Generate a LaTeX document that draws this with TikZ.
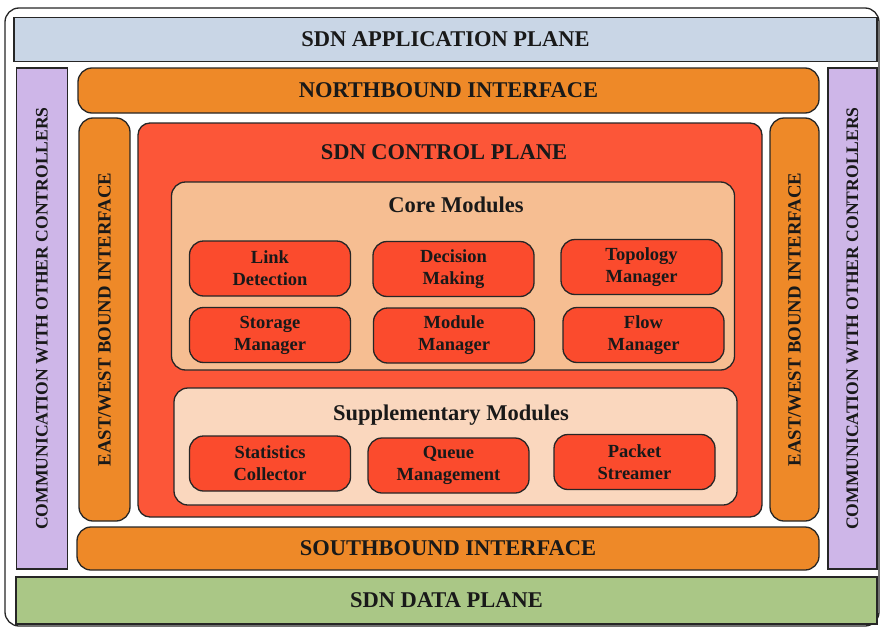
\documentclass[tikz,border=0pt]{standalone}
\usepackage{fontspec}
\setmainfont{Liberation Serif}
\usetikzlibrary{positioning}
\definecolor{appcol}{RGB}{201,214,230}
\definecolor{datacol}{RGB}{170,199,134}
\definecolor{commcol}{RGB}{206,182,232}
\definecolor{ifcol}{RGB}{238,137,40}
\definecolor{ctrlcol}{RGB}{252,86,56}
\definecolor{corecol}{RGB}{246,190,146}
\definecolor{suppcol}{RGB}{250,215,190}
\definecolor{modcol}{RGB}{251,75,45}
\newcommand{\headfont}{\fontsize{22.5}{26}\selectfont\bfseries}
\newcommand{\modfont}{\fontsize{18.5}{22}\selectfont\bfseries}
\tikzset{
  box/.style    ={rectangle, draw=black!85, line width=1.3pt, inner sep=0pt,
                  align=center, text=black!90, font=\headfont},
  frame/.style  ={box, fill=white, rounded corners=14pt, minimum width=874pt,
                  minimum height=618pt},
  plane/.style  ={box, minimum height=44pt},
  comm/.style   ={box, fill=commcol, rotate=90, minimum width=501pt,
                  minimum height=51pt, font=\fontsize{17.6}{20}\selectfont\bfseries},
  iface/.style  ={box, fill=ifcol, rounded corners=14pt},
  ewi/.style    ={iface, rotate=90, minimum width=403pt, minimum height=51pt,
                  font=\fontsize{18.7}{21}\selectfont\bfseries},
  ctrl/.style   ={box, fill=ctrlcol, rounded corners=12pt, minimum width=624pt,
                  minimum height=394pt},
  group/.style  ={box, rounded corners=14pt, minimum width=563pt},
  title/.style  ={anchor=base, font=\headfont, text=black!90},
  module/.style ={box, fill=modcol, rounded corners=14pt, minimum width=161pt,
                  minimum height=55pt, font=\modfont},
}
\begin{document}
\begin{tikzpicture}[x=1pt, y=-1pt]
  \useasboundingbox (0,0) rectangle (881,629);
  % outer frame
  \node[frame] (frame) at (442,317) {};

  % planes
  \node[plane, fill=appcol, minimum width=863pt] (app) at (445.5,39.5) {SDN APPLICATION PLANE};
  \node[plane, fill=datacol, minimum width=861pt, minimum height=47pt] (data) at (446.5,600.5) {SDN DATA PLANE};

  % communication with other controllers
  \node[comm] (commL) at (42,318.5) {COMMUNICATION WITH OTHER CONTROLLERS};
  \node[comm, minimum height=49pt] (commR) at (852.5,318.5) {COMMUNICATION WITH OTHER CONTROLLERS};

  % interfaces
  \node[iface, minimum width=741pt, minimum height=45pt] (nbi) at (448.5,90.5) {NORTHBOUND INTERFACE};
  \node[iface, minimum width=742pt, minimum height=43pt] (sbi) at (448,548.5) {SOUTHBOUND INTERFACE};
  \node[ewi] (ewL) at (104.5,319.5) {EAST/WEST BOUND INTERFACE};
  \node[ewi, minimum height=49pt] (ewR) at (794.5,319.5) {EAST/WEST BOUND INTERFACE};

  % control plane
  \node[ctrl] (ctrl) at (450,320) {};
  \node[title] (ctrltitle) at (444,159) {SDN CONTROL PLANE};

  % core modules
  \node[group, fill=corecol, minimum height=188pt] (core) at (453,276) {};
  \node[title] (coretitle) at (456,212.5) {Core Modules};
  \node[module] (link)  at (270,268.5)   {Link\\Detection};
  \node[module] (dec)   at (453.5,269)   {Decision\\Making};
  \node[module] (topo)  at (641.5,267)   {Topology\\Manager};
  \node[module] (store) at (270,335)     {Storage\\Manager};
  \node[module] (modm)  at (454,335.5)   {Module\\Manager};
  \node[module] (flow)  at (643.5,335)   {Flow\\Manager};

  % supplementary modules
  \node[group, fill=suppcol, minimum height=117pt] (supp) at (455.5,446.5) {};
  \node[title] (supptitle) at (451,420.5) {Supplementary Modules};
  \node[module] (stats) at (270,463.5)   {Statistics\\Collector};
  \node[module] (queue) at (448.5,465.5) {Queue\\Management};
  \node[module] (pkt)   at (634.5,462)   {Packet\\Streamer};
\end{tikzpicture}
\end{document}
